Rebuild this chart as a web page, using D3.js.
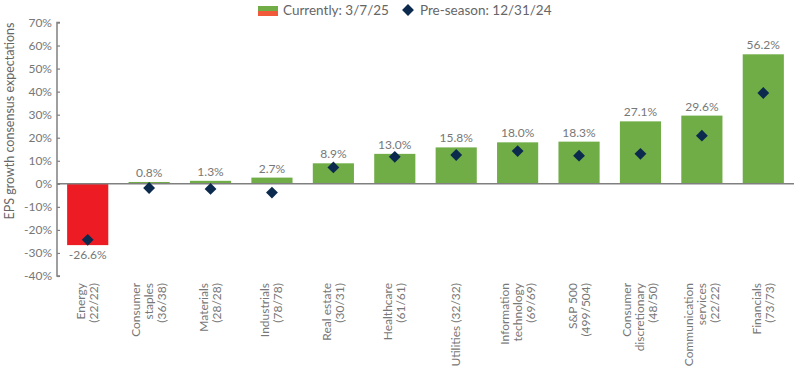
<!DOCTYPE html>
<html lang="en">
	<head>
		<meta charset="utf-8" />
		<title>EPS growth</title>
		<style>
			body{margin:0;background:#fff;}
			text{font-family:Lato,sans-serif;fill:#666;}
		</style>
	</head>
	<body>
		<script src="https://cdn.jsdelivr.net/npm/d3@7"></script>
		<script>
			var categories = [
				['Energy','(22/22)'],
				['Consumer','staples','(36/38)'],
				['Materials','(28/28)'],
				['Industrials','(78/78)'],
				['Real estate','(30/31)'],
				['Healthcare','(61/61)'],
				['Utilities (32/32)'],
				['Information','technology','(69/69)'],
				['S&P 500','(499/504)'],
				['Consumer','discretionary','(48/50)'],
				['Communication','services','(22/22)'],
				['Financials','(73/73)']
			];
			var current = [-26.6,0.8,1.3,2.7,8.9,13.0,15.8,18.0,18.3,27.1,29.6,56.2];
			var preseason = [-24.3,-1.8,-2.2,-3.8,7.1,11.7,12.5,14.2,12.2,13.0,20.9,39.4];
			var yTicks = [70,60,50,40,30,20,10,0,-10,-20,-30,-40];

			var W = 800, H = 367;
			var svg = d3.select('body').append('svg')
				.attr('width',W)
				.attr('height',H);

			var x = d3.scaleBand()
				.domain(d3.range(categories.length))
				.range([57,794])
				.paddingInner(0.33)
				.paddingOuter(0.165);
			var y = d3.scaleLinear()
				.domain([-40,70])
				.range([276,22.5]);

			// y axis
			var yAxis = svg.append('g')
				.attr('transform','translate(57,0)')
				.call(d3.axisRight(y).tickValues(yTicks).tickSize(3).tickFormat(function(d){return d+'%';}));
			yAxis.select('.domain').attr('stroke','#808080').attr('stroke-width',1.5)
				.attr('d','M3,'+y(70)+'H0V'+y(-40)+'H3');
			yAxis.selectAll('.tick line').attr('stroke','#808080').attr('stroke-width',1.2);
			yAxis.selectAll('.tick text')
				.attr('x',-5)
				.attr('text-anchor','end')
				.style('font-size','12px')
				.style('fill','#777');

			// axis title
			svg.append('text')
				.attr('transform','translate(14,121) rotate(-90)')
				.attr('text-anchor','middle')
				.style('font-size','12.5px')
				.style('fill','#666')
				.text('EPS growth consensus expectations');

			// bars
			svg.selectAll('rect.bar')
				.data(current)
				.enter().append('rect')
				.attr('class','bar')
				.attr('x',function(d,i){return x(i);})
				.attr('width',x.bandwidth())
				.attr('y',function(d){return y(Math.max(d,0));})
				.attr('height',function(d){return Math.abs(y(d)-y(0));})
				.attr('fill',function(d){return d<0?'#ed1c24':'#70ad47';});

			// zero line
			svg.append('line')
				.attr('x1',57).attr('x2',794)
				.attr('y1',y(0)).attr('y2',y(0))
				.attr('stroke','#808080')
				.attr('stroke-width',1.5);

			// value labels
			svg.selectAll('text.val')
				.data(current)
				.enter().append('text')
				.attr('class','val')
				.attr('x',function(d,i){return x(i)+x.bandwidth()/2;})
				.attr('y',function(d){return d<0?y(d)+14:y(d)-5;})
				.attr('text-anchor','middle')
				.style('font-size','12px')
				.style('fill','#777')
				.text(function(d){return d.toFixed(1)+'%';});

			// pre-season diamonds
			var diamond = d3.symbol().type(d3.symbolSquare).size(70);
			svg.selectAll('path.pre')
				.data(preseason)
				.enter().append('path')
				.attr('class','pre')
				.attr('d',diamond)
				.attr('transform',function(d,i){return 'translate('+(x(i)+x.bandwidth()/2)+','+y(d)+') rotate(45)';})
				.attr('fill','#0c2a4d');

			// category labels
			var lh = 13;
			categories.forEach(function(lines,i){
				var cx = x(i)+x.bandwidth()/2;
				var n = lines.length;
				lines.forEach(function(t,j){
					var off = (j-(n-1)/2)*lh;
					svg.append('text')
						.attr('transform','translate('+(cx+off+4)+',283) rotate(-90)')
						.attr('text-anchor','end')
						.style('font-size','12px')
						.style('fill','#777')
						.text(t);
				});
			});

			// legend
			var lg = svg.append('g');
			lg.append('rect').attr('x',258).attr('y',6).attr('width',20).attr('height',5).attr('fill','#70ad47');
			lg.append('rect').attr('x',258).attr('y',11).attr('width',20).attr('height',5).attr('fill','#f05a3a');
			lg.append('text').attr('x',283).attr('y',15).style('font-size','13.5px').style('fill','#666').text('Currently: 3/7/25');
			lg.append('path').attr('d',diamond).attr('transform','translate(408,10) rotate(45)').attr('fill','#0c2a4d');
			lg.append('text').attr('x',420).attr('y',15).style('font-size','13.5px').style('fill','#666').text('Pre-season: 12/31/24');
		</script>
	</body>
</html>
